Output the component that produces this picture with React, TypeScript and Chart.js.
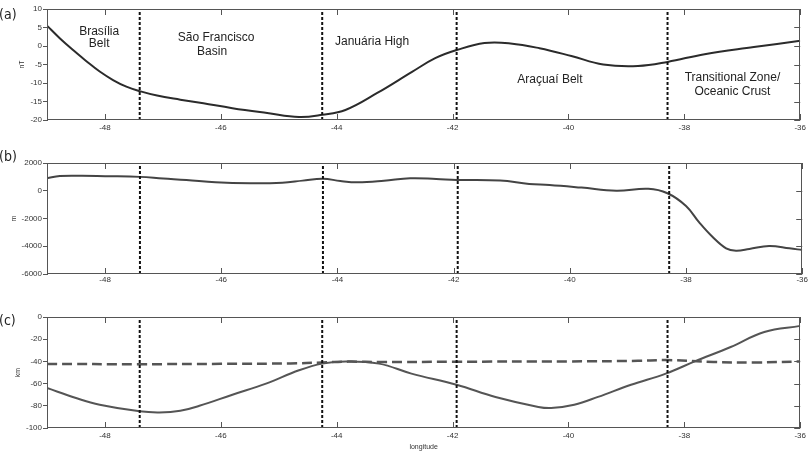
import React, { useEffect, useRef } from "react";
import { Chart, registerables } from "chart.js";
Chart.register(...registerables);

// ---- shared axis data ----
const lonTicks = [-48, -46, -44, -42, -40, -38, -36];
const lonMin = -49;
const lonMax = -36;
const boundaryLon = [-47.4, -44.25, -41.93, -38.29];

// ---- (a) magnetic anomaly, nT ----
const magLon = [-49, -48.78, -48.55, -48.32, -48.09, -47.86, -47.63, -47.4, -47.1, -46.7, -46.3, -45.8, -45.2, -44.65, -44.25, -43.85, -43.3, -42.7, -42.3, -41.93, -41.45, -41.0, -40.5, -39.95, -39.4, -38.8, -38.29, -37.65, -36.8, -36];
const magValues = [5.5, 2.1, -1.1, -4.1, -6.9, -9.2, -11.0, -12.2, -13.4, -14.5, -15.5, -16.8, -18.1, -19.2, -18.6, -17.3, -12.7, -7.0, -3.3, -1.1, 0.8, 0.7, -0.6, -2.7, -5.0, -5.4, -4.3, -2.2, -0.3, 1.4];
const magTicks = [-20, -15, -10, -5, 0, 5, 10];

// ---- (b) topography, m ----
const topoLon = [-49, -48.78, -48.4, -48.0, -47.4, -47.0, -46.6, -46.1, -45.5, -44.95, -44.6, -44.25, -43.95, -43.65, -43.2, -42.75, -42.3, -41.95, -41.2, -40.7, -40.35, -39.8, -39.2, -38.65, -38.32, -38.0, -37.77, -37.55, -37.31, -37.14, -36.91, -36.57, -36.22, -36];
const topoValues = [900, 1060, 1080, 1050, 1000, 880, 780, 610, 540, 580, 730, 870, 700, 610, 720, 900, 850, 780, 730, 490, 420, 230, 0, 140, -180, -1100, -2300, -3300, -4150, -4320, -4200, -3980, -4150, -4270];
const topoTicks = [-6000, -4000, -2000, 0, 2000];

// ---- (c) depths, km ----
const solidLon = [-49, -48.5, -48.09, -47.4, -47.06, -46.7, -46.37, -45.8, -45.22, -44.65, -44.25, -43.84, -43.27, -42.71, -41.93, -41.26, -40.52, -40.3, -39.9, -39.49, -38.92, -38.32, -37.82, -37.2, -36.62, -36];
const solidValues = [-64, -73, -79, -85, -86, -84.5, -80, -70, -60, -48, -42, -40, -42, -51, -61, -72, -81, -82, -79, -72, -61, -51, -40, -27, -13.5, -8];
const dashedLon = [-49, -47.4, -46, -44.8, -44.25, -43.8, -43.2, -42, -40, -38.8, -38.3, -37.5, -36.8, -36];
const dashedValues = [-42.3, -42.5, -42.2, -41.8, -41, -40.2, -40.6, -40.3, -40, -39.5, -38.8, -40.5, -41, -40];
const depthTicks = [-100, -80, -60, -40, -20, 0];

// ---- zone labels in panel (a) ----
const zoneText = ["Brasília", "Belt", "São Francisco", "Basin", "Januária High", "Araçuaí Belt", "Transitional Zone/", "Oceanic Crust"];
const zoneLon = [-48.1, -48.1, -46.08, -46.15, -43.39, -40.32, -37.17, -37.17];
const zoneVal = [4.0, 0.5, 2.2, -1.6, 1.1, -9.2, -8.6, -12.4];

const panelLetters = ["(a)", "(b)", "(c)"];

const tickFont = { family: "Liberation Sans, Arial, sans-serif", size: 8 };
const tickColor = "#333";

type Series = { lon: number[]; values: number[]; color: string; width: number; dash?: number[] };
type PanelCfg = {
  top: number;
  height: number;
  plotTop: number;
  plotBottom: number;
  titleLeft: number;
  xPad: number;
  letterTop: number;
  yTicks: number[];
  yTitle: string;
  series: Series[];
  labels?: boolean;
  xTitle?: string;
};

const panels: PanelCfg[] = [
  {
    top: 0, height: 140, plotTop: 9, plotBottom: 120, titleLeft: 18, xPad: 3, letterTop: 6,
    yTicks: magTicks, yTitle: "nT",
    series: [{ lon: magLon, values: magValues, color: "#2b2b2b", width: 2 }],
    labels: true,
  },
  {
    top: 140, height: 160, plotTop: 23, plotBottom: 134, titleLeft: 10, xPad: 1, letterTop: 148,
    yTicks: topoTicks, yTitle: "m",
    series: [{ lon: topoLon, values: topoValues, color: "#444", width: 2 }],
  },
  {
    top: 300, height: 152, plotTop: 17, plotBottom: 128, titleLeft: 14, xPad: 3, letterTop: 312,
    yTicks: depthTicks, yTitle: "km",
    series: [
      { lon: dashedLon, values: dashedValues, color: "#555", width: 2.5, dash: [10, 5] },
      { lon: solidLon, values: solidValues, color: "#555", width: 2 },
    ],
    xTitle: "longitude",
  },
];

function buildChart(canvas: HTMLCanvasElement, p: PanelCfg) {
  const yMin = p.yTicks[0];
  const yMax = p.yTicks[p.yTicks.length - 1];
  const step = p.yTicks[1] - p.yTicks[0];

  const boundarySets = boundaryLon.map((b) => ({
    data: [{ x: b, y: yMin }, { x: b, y: yMax }],
    borderColor: "#111",
    borderWidth: 2,
    borderDash: [3, 2],
    pointRadius: 0,
    tension: 0,
  }));
  const seriesSets = p.series.map((s) => ({
    data: s.lon.map((x, i) => ({ x, y: s.values[i] })),
    borderColor: s.color,
    borderWidth: s.width,
    borderDash: s.dash || [],
    pointRadius: 0,
    tension: 0.4,
  }));

  const framePlugin = {
    id: "frameTicks",
    afterDatasetsDraw(chart: any) {
      const { ctx, chartArea: a, scales } = chart;
      ctx.save();
      ctx.strokeStyle = "#555";
      ctx.lineWidth = 1;
      const line = (x1: number, y1: number, x2: number, y2: number) => {
        ctx.beginPath();
        ctx.moveTo(x1, y1);
        ctx.lineTo(x2, y2);
        ctx.stroke();
      };
      ctx.strokeRect(Math.round(a.left) + 0.5, Math.round(a.top) + 0.5, Math.round(a.right - a.left) - 1, Math.round(a.bottom - a.top) - 1);
      lonTicks.forEach((v) => {
        const x = Math.round(scales.x.getPixelForValue(v)) + 0.5;
        line(x, a.top, x, a.top + 6);
        line(x, a.bottom, x, a.bottom - 6);
      });
      p.yTicks.forEach((v) => {
        const y = Math.round(scales.y.getPixelForValue(v)) + 0.5;
        line(a.right - 6, y, a.right, y);
      });
      if (p.labels) {
        ctx.fillStyle = "#222";
        ctx.font = "12px 'Liberation Sans', Arial, sans-serif";
        ctx.textAlign = "center";
        ctx.textBaseline = "middle";
        zoneText.forEach((t, i) => {
          ctx.fillText(t, scales.x.getPixelForValue(zoneLon[i]), scales.y.getPixelForValue(zoneVal[i]));
        });
      }
      ctx.restore();
    },
  };

  return new Chart(canvas, {
    type: "line",
    data: { datasets: [...boundarySets, ...seriesSets] as any },
    plugins: [framePlugin],
    options: {
      animation: false,
      responsive: false,
      events: [],
      layout: { padding: { left: p.titleLeft, top: p.plotTop, right: 6, bottom: 0 } },
      plugins: { legend: { display: false }, tooltip: { enabled: false }, title: { display: false } },
      scales: {
        x: {
          type: "linear",
          min: lonMin,
          max: lonMax,
          afterBuildTicks: (s: any) => {
            s.ticks = lonTicks.map((v) => ({ value: v }));
          },
          afterFit: (s: any) => {
            s.height = p.height - p.plotBottom;
          },
          grid: { display: false, drawTicks: false },
          border: { display: false },
          ticks: { font: tickFont, color: tickColor, padding: p.xPad, maxRotation: 0, autoSkip: false, callback: (v: any) => String(v) },
          title: p.xTitle
            ? { display: true, text: p.xTitle, font: { family: "Liberation Sans, Arial, sans-serif", size: 7 }, color: "#333", padding: { top: 0, bottom: 1 } }
            : { display: false },
        },
        y: {
          type: "linear",
          min: yMin,
          max: yMax,
          ticks: { stepSize: step, font: tickFont, color: tickColor, padding: 1, callback: (v: any) => String(v) },
          afterFit: (s: any) => {
            s.width = 47 - p.titleLeft;
          },
          grid: { display: true, drawOnChartArea: false, drawTicks: true, tickLength: 4, color: "#555" },
          border: { display: true, color: "#555" },
          title: { display: true, text: p.yTitle, font: { family: "Liberation Sans, Arial, sans-serif", size: 7 }, color: "#333", padding: { top: 0, bottom: 0 } },
        },
      },
    } as any,
  });
}

function PanelCanvas({ cfg }: { cfg: PanelCfg }) {
  const ref = useRef<HTMLCanvasElement>(null);
  useEffect(() => {
    if (!ref.current) return;
    const chart = buildChart(ref.current, cfg);
    return () => chart.destroy();
  }, []);
  return (
    <canvas
      ref={ref}
      width={809}
      height={cfg.height}
      style={{ position: "absolute", left: 0, top: cfg.top, width: 809, height: cfg.height }}
    />
  );
}

export default function App() {
  return (
    <div style={{ position: "absolute", left: 0, top: 0, width: 809, height: 452, background: "#fff", overflow: "hidden" }}>
      {panels.map((p, i) => (
        <React.Fragment key={i}>
          <PanelCanvas cfg={p} />
          <div
            style={{
              position: "absolute",
              left: -1,
              top: p.letterTop,
              fontFamily: "'Liberation Sans Narrow', 'DejaVu Sans Condensed', Arial, sans-serif",
              fontSize: 14,
              lineHeight: "16px",
              color: "#222",
            }}
          >
            {panelLetters[i]}
          </div>
        </React.Fragment>
      ))}
    </div>
  );
}
